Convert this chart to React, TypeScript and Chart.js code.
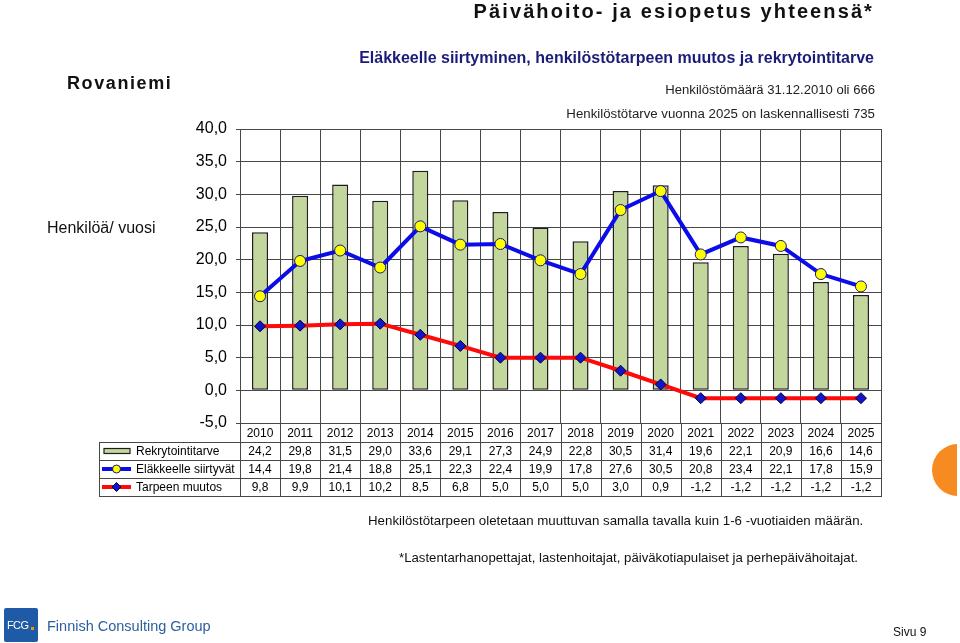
import React, { useEffect, useRef } from "react";
import { Chart, registerables } from "chart.js";

Chart.register(...registerables);

const years = ["2010", "2011", "2012", "2013", "2014", "2015", "2016", "2017", "2018", "2019", "2020", "2021", "2022", "2023", "2024", "2025"];
const rekrytointitarve = [24.2, 29.8, 31.5, 29.0, 33.6, 29.1, 27.3, 24.9, 22.8, 30.5, 31.4, 19.6, 22.1, 20.9, 16.6, 14.6];
const elakkeelleSiirtyvat = [14.4, 19.8, 21.4, 18.8, 25.1, 22.3, 22.4, 19.9, 17.8, 27.6, 30.5, 20.8, 23.4, 22.1, 17.8, 15.9];
const tarpeenMuutos = [9.8, 9.9, 10.1, 10.2, 8.5, 6.8, 5.0, 5.0, 5.0, 3.0, 0.9, -1.2, -1.2, -1.2, -1.2, -1.2];
const seriesNames = ["Rekrytointitarve", "Eläkkeelle siirtyvät", "Tarpeen muutos"];
const yMin = -5;
const yMax = 40;
const yStep = 5;

const FONT = "'Liberation Sans', Arial, Helvetica, sans-serif";
const BAR_FILL = "#c3d69b";
const BAR_EDGE = "#1e1e1e";
const BLUE = "#0c0ce8";
const RED = "#ff0a0a";
const GRID = "#474747";

const fmt = (v: number) => v.toFixed(1).replace(".", ",");

const tablePlugin = {
  id: "dataTable",
  afterDraw(chart: any) {
    const ctx = chart.ctx as CanvasRenderingContext2D;
    const xs = chart.scales.x;
    const left = Math.round(xs.left);
    const right = Math.round(xs.right);
    const n = years.length;
    const cw = (right - left) / n;
    const top = Math.round(chart.chartArea.bottom);
    const rows = [top, top + 19, top + 37, top + 55, top + 73];
    const labelLeft = 99;
    ctx.save();
    ctx.strokeStyle = GRID;
    ctx.lineWidth = 1;
    ctx.beginPath();
    for (let i = 1; i < rows.length; i++) {
      ctx.moveTo(labelLeft, rows[i] + 0.5);
      ctx.lineTo(right + 1, rows[i] + 0.5);
    }
    for (let i = 0; i <= n; i++) {
      const x = Math.round(left + i * cw) + 0.5;
      ctx.moveTo(x, rows[0]);
      ctx.lineTo(x, rows[4] + 1);
    }
    ctx.moveTo(labelLeft + 0.5, rows[1]);
    ctx.lineTo(labelLeft + 0.5, rows[4] + 1);
    ctx.stroke();

    ctx.fillStyle = "#000";
    ctx.font = `12px ${FONT}`;
    ctx.textAlign = "center";
    ctx.textBaseline = "middle";
    const series = [rekrytointitarve, elakkeelleSiirtyvat, tarpeenMuutos];
    for (let i = 0; i < n; i++) {
      const cx = xs.getPixelForValue(i);
      ctx.fillText(years[i], cx, (rows[0] + rows[1]) / 2 + 1);
      series.forEach((s, r) => {
        ctx.fillText(fmt(s[i]), cx, (rows[r + 1] + rows[r + 2]) / 2 + 1);
      });
    }
    ctx.textAlign = "left";
    seriesNames.forEach((name, r) => {
      ctx.fillText(name, 136, (rows[r + 1] + rows[r + 2]) / 2 + 1);
    });
    const cy0 = (rows[1] + rows[2]) / 2;
    ctx.fillStyle = BAR_FILL;
    ctx.strokeStyle = BAR_EDGE;
    ctx.lineWidth = 1.2;
    ctx.fillRect(104, cy0 - 2.5, 26, 5);
    ctx.strokeRect(104, cy0 - 2.5, 26, 5);
    const cy1 = (rows[2] + rows[3]) / 2;
    ctx.strokeStyle = BLUE;
    ctx.lineWidth = 4;
    ctx.beginPath();
    ctx.moveTo(102, cy1);
    ctx.lineTo(131, cy1);
    ctx.stroke();
    ctx.beginPath();
    ctx.arc(116.5, cy1, 4, 0, Math.PI * 2);
    ctx.fillStyle = "#ffff00";
    ctx.fill();
    ctx.lineWidth = 1;
    ctx.strokeStyle = "#1a1a6e";
    ctx.stroke();
    const cy2 = (rows[3] + rows[4]) / 2;
    ctx.strokeStyle = RED;
    ctx.lineWidth = 4;
    ctx.beginPath();
    ctx.moveTo(102, cy2);
    ctx.lineTo(131, cy2);
    ctx.stroke();
    ctx.beginPath();
    ctx.moveTo(116.5, cy2 - 4.5);
    ctx.lineTo(121, cy2);
    ctx.lineTo(116.5, cy2 + 4.5);
    ctx.lineTo(112, cy2);
    ctx.closePath();
    ctx.fillStyle = "#1414c8";
    ctx.fill();
    ctx.lineWidth = 1;
    ctx.strokeStyle = "#000040";
    ctx.stroke();
    ctx.restore();
  },
};

export default function App() {
  const canvasRef = useRef<HTMLCanvasElement | null>(null);

  useEffect(() => {
    if (!canvasRef.current) return;
    Chart.defaults.font.family = FONT;
    const chart = new Chart(canvasRef.current, {
      type: "bar",
      data: {
        labels: years,
        datasets: [
          {
            type: "line",
            label: seriesNames[1],
            data: elakkeelleSiirtyvat,
            borderColor: BLUE,
            borderWidth: 4,
            tension: 0,
            pointStyle: "circle",
            pointRadius: 5.5,
            pointBackgroundColor: "#ffff00",
            pointBorderColor: "#1a1a6e",
            pointBorderWidth: 1,
            order: 1,
          } as any,
          {
            type: "line",
            label: seriesNames[2],
            data: tarpeenMuutos,
            borderColor: RED,
            borderWidth: 4,
            tension: 0,
            pointStyle: "rectRot",
            pointRadius: 5.5,
            pointBackgroundColor: "#1414c8",
            pointBorderColor: "#000040",
            pointBorderWidth: 1,
            order: 2,
          } as any,
          {
            type: "bar",
            label: seriesNames[0],
            data: rekrytointitarve,
            backgroundColor: BAR_FILL,
            borderColor: BAR_EDGE,
            borderWidth: 1.5,
            borderSkipped: false,
            barPercentage: 0.4,
            categoryPercentage: 1.0,
            order: 3,
          } as any,
        ],
      },
      options: {
        responsive: true,
        maintainAspectRatio: false,
        animation: false,
        layout: { padding: { top: 129, right: 79, bottom: 0, left: 0 } },
        plugins: {
          legend: { display: false },
          tooltip: { enabled: false },
          title: { display: false },
        },
        scales: {
          x: {
            display: true,
            offset: true,
            grid: { display: true, offset: true, color: GRID, lineWidth: 1, drawTicks: false },
            border: { display: false },
            ticks: { display: false },
            afterFit: (scale: any) => {
              scale.height = 220;
            },
          },
          y: {
            min: yMin,
            max: yMax,
            ticks: {
              stepSize: yStep,
              color: "#000",
              font: { size: 16, family: FONT },
              padding: 9,
              callback: (v: any) => fmt(Number(v)),
            },
            grid: { color: GRID, lineWidth: 1, drawTicks: true, tickLength: 4 },
            border: { display: true, color: GRID, width: 1 },
            afterFit: (scale: any) => {
              scale.width = 240;
            },
          },
        },
      },
      plugins: [tablePlugin],
    });
    return () => chart.destroy();
  }, []);

  const abs = (style: React.CSSProperties): React.CSSProperties => ({
    position: "absolute",
    whiteSpace: "nowrap",
    fontFamily: FONT,
    lineHeight: 1,
    margin: 0,
    ...style,
  });

  return (
    <div style={{ position: "absolute", left: 0, top: 0, width: 960, height: 643, overflow: "hidden", background: "#fff" }}>
      <div style={{ position: "absolute", left: 0, top: 0, width: 960, height: 643 }}>
        <canvas ref={canvasRef} />
      </div>
      <div style={abs({ right: 86, top: 0.5, fontSize: 20, fontWeight: "bold", letterSpacing: "2.1px", color: "#111" })}>
        Päivähoito- ja esiopetus yhteensä*
      </div>
      <div style={abs({ right: 86, top: 49.8, fontSize: 16, fontWeight: "bold", color: "#1c1c78" })}>
        Eläkkeelle siirtyminen, henkilöstötarpeen muutos ja rekrytointitarve
      </div>
      <div style={abs({ left: 67, top: 74, fontSize: 18, fontWeight: "bold", letterSpacing: "1.6px", color: "#111" })}>
        Rovaniemi
      </div>
      <div style={abs({ right: 85, top: 83, fontSize: 13.1, color: "#222" })}>
        Henkilöstömäärä 31.12.2010 oli 666
      </div>
      <div style={abs({ right: 85, top: 107, fontSize: 13.25, color: "#222" })}>
        Henkilöstötarve vuonna 2025 on laskennallisesti 735
      </div>
      <div style={abs({ left: 47, top: 220, fontSize: 16, color: "#111" })}>Henkilöä/ vuosi</div>
      <div style={abs({ left: 368, top: 513.5, fontSize: 13.3, color: "#111" })}>
        Henkilöstötarpeen oletetaan muuttuvan samalla tavalla kuin 1-6 -vuotiaiden määrän.
      </div>
      <div style={abs({ left: 399, top: 550.5, fontSize: 13.2, color: "#111" })}>
        *Lastentarhanopettajat, lastenhoitajat, päiväkotiapulaiset ja perhepäivähoitajat.
      </div>
      <div style={{ position: "absolute", left: 930, top: 444, width: 27, height: 52, overflow: "hidden" }}>
        <div style={{ position: "absolute", left: 2, top: 0, width: 52, height: 52, borderRadius: "50%", background: "#f88a22" }} />
      </div>
      <div style={{ position: "absolute", left: 4, top: 608, width: 34, height: 34, background: "#1f5aa6", borderRadius: 2 }}>
        <div style={abs({ left: 3, top: 12, fontSize: 11, color: "#fff", letterSpacing: "-0.6px" })}>FCG</div>
        <div style={{ position: "absolute", left: 27, top: 19, width: 3, height: 3, background: "#f39200" }} />
      </div>
      <div style={abs({ left: 47, top: 619, fontSize: 14.5, color: "#2b5f9f" })}>Finnish Consulting Group</div>
      <div style={abs({ left: 893, top: 625.5, fontSize: 12, color: "#111" })}>Sivu 9</div>
    </div>
  );
}
